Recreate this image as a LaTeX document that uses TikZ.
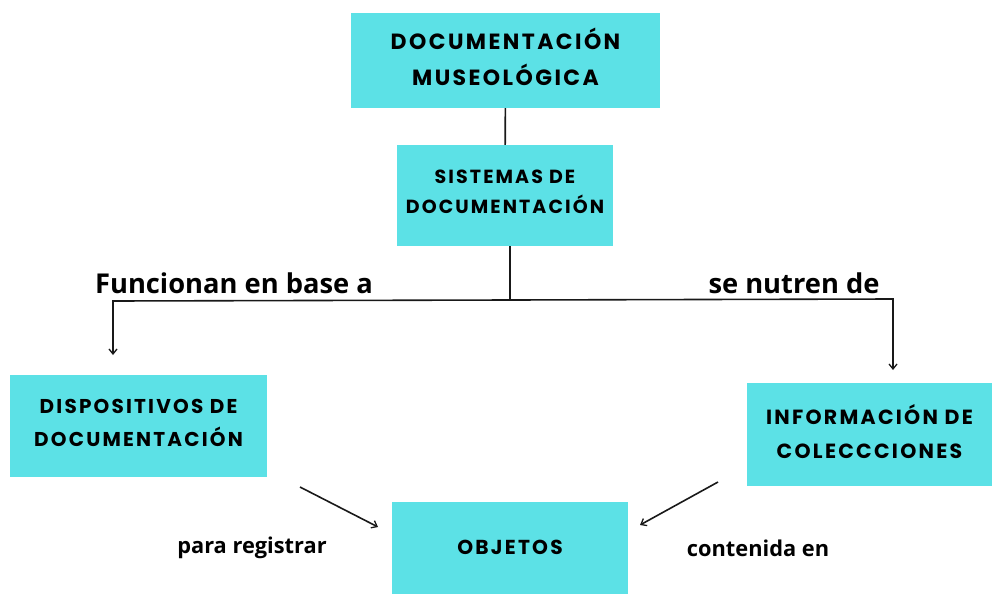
\documentclass[tikz,border=0pt]{standalone}
\usepackage{fontspec}
\newfontfamily\boxfont[LetterSpace=11]{Poppins}
\newfontfamily\labfont{Open Sans}
\usetikzlibrary{arrows.meta}
\definecolor{boxcyan}{HTML}{5CE1E6}
\tikzset{
  box/.style={fill=boxcyan, draw=none, align=center, inner sep=0pt, text depth=7pt},
  conn/.style={line width=1.6pt, draw=black!90},
  arr/.style={conn, -{Straight Barb[length=5pt,width=8pt,line width=1.3pt]}},
  lab/.style={inner sep=0pt}
}
\begin{document}
\begin{tikzpicture}[x=1pt,y=-1pt]
\useasboundingbox[fill=white] (0,0) rectangle (992,594);
\node[box, minimum width=309pt, minimum height=95pt,
  font=\boxfont\bfseries\fontsize{22}{36}\selectfont] (b1) at (505.5,60.5)
  {DOCUMENTACIÓN\\MUSEOLÓGICA};
\node[box, minimum width=216pt, minimum height=101pt,
  font=\boxfont\bfseries\fontsize{19}{30}\selectfont] (b2) at (505,195.5)
  {SISTEMAS DE\\DOCUMENTACIÓN};
\node[box, minimum width=257pt, minimum height=102pt,
  font=\boxfont\bfseries\fontsize{20}{33}\selectfont] (b3) at (138.5,426)
  {DISPOSITIVOS DE\\DOCUMENTACIÓN};
\node[box, minimum width=245pt, minimum height=103pt,
  font=\boxfont\bfseries\fontsize{20.5}{34}\selectfont] (b4) at (869.5,434.5)
  {INFORMACIÓN DE\\COLECCCIONES};
\node[box, minimum width=236pt, minimum height=92pt, text depth=2pt,
  font=\boxfont\bfseries\fontsize{20.2}{30}\selectfont] (b5) at (510,548)
  {OBJETOS};

\node[lab, font=\labfont\bfseries\fontsize{27.3}{30}\selectfont] (t1) at (234,283) {Funcionan en base a};
\node[lab, font=\labfont\bfseries\fontsize{27.3}{30}\selectfont] (t2) at (794,283) {se nutren de};
\node[lab, font=\labfont\bfseries\fontsize{21.8}{25}\selectfont] (t3) at (252,548) {para registrar};
\node[lab, font=\labfont\bfseries\fontsize{21.8}{25}\selectfont] (t4) at (758,548) {contenida en};

\coordinate (j) at (510,300);
\coordinate (l) at (113,301);
\coordinate (la) at (113,355);
\coordinate (r) at (893,299);
\coordinate (ra) at (893,370);
\coordinate (d1) at (300,487);
\coordinate (d1e) at (378,527);
\coordinate (d2) at (718,482);
\coordinate (d2e) at (640,525);

\draw[conn] (b1) -- (b2);
\draw[conn] (b2.south -| j) -- (j);
\draw[arr] (j) -- (l) -- (la);
\draw[arr] (j) -- (r) -- (ra);
\draw[arr] (d1) -- (d1e);
\draw[arr] (d2) -- (d2e);
\end{tikzpicture}
\end{document}
